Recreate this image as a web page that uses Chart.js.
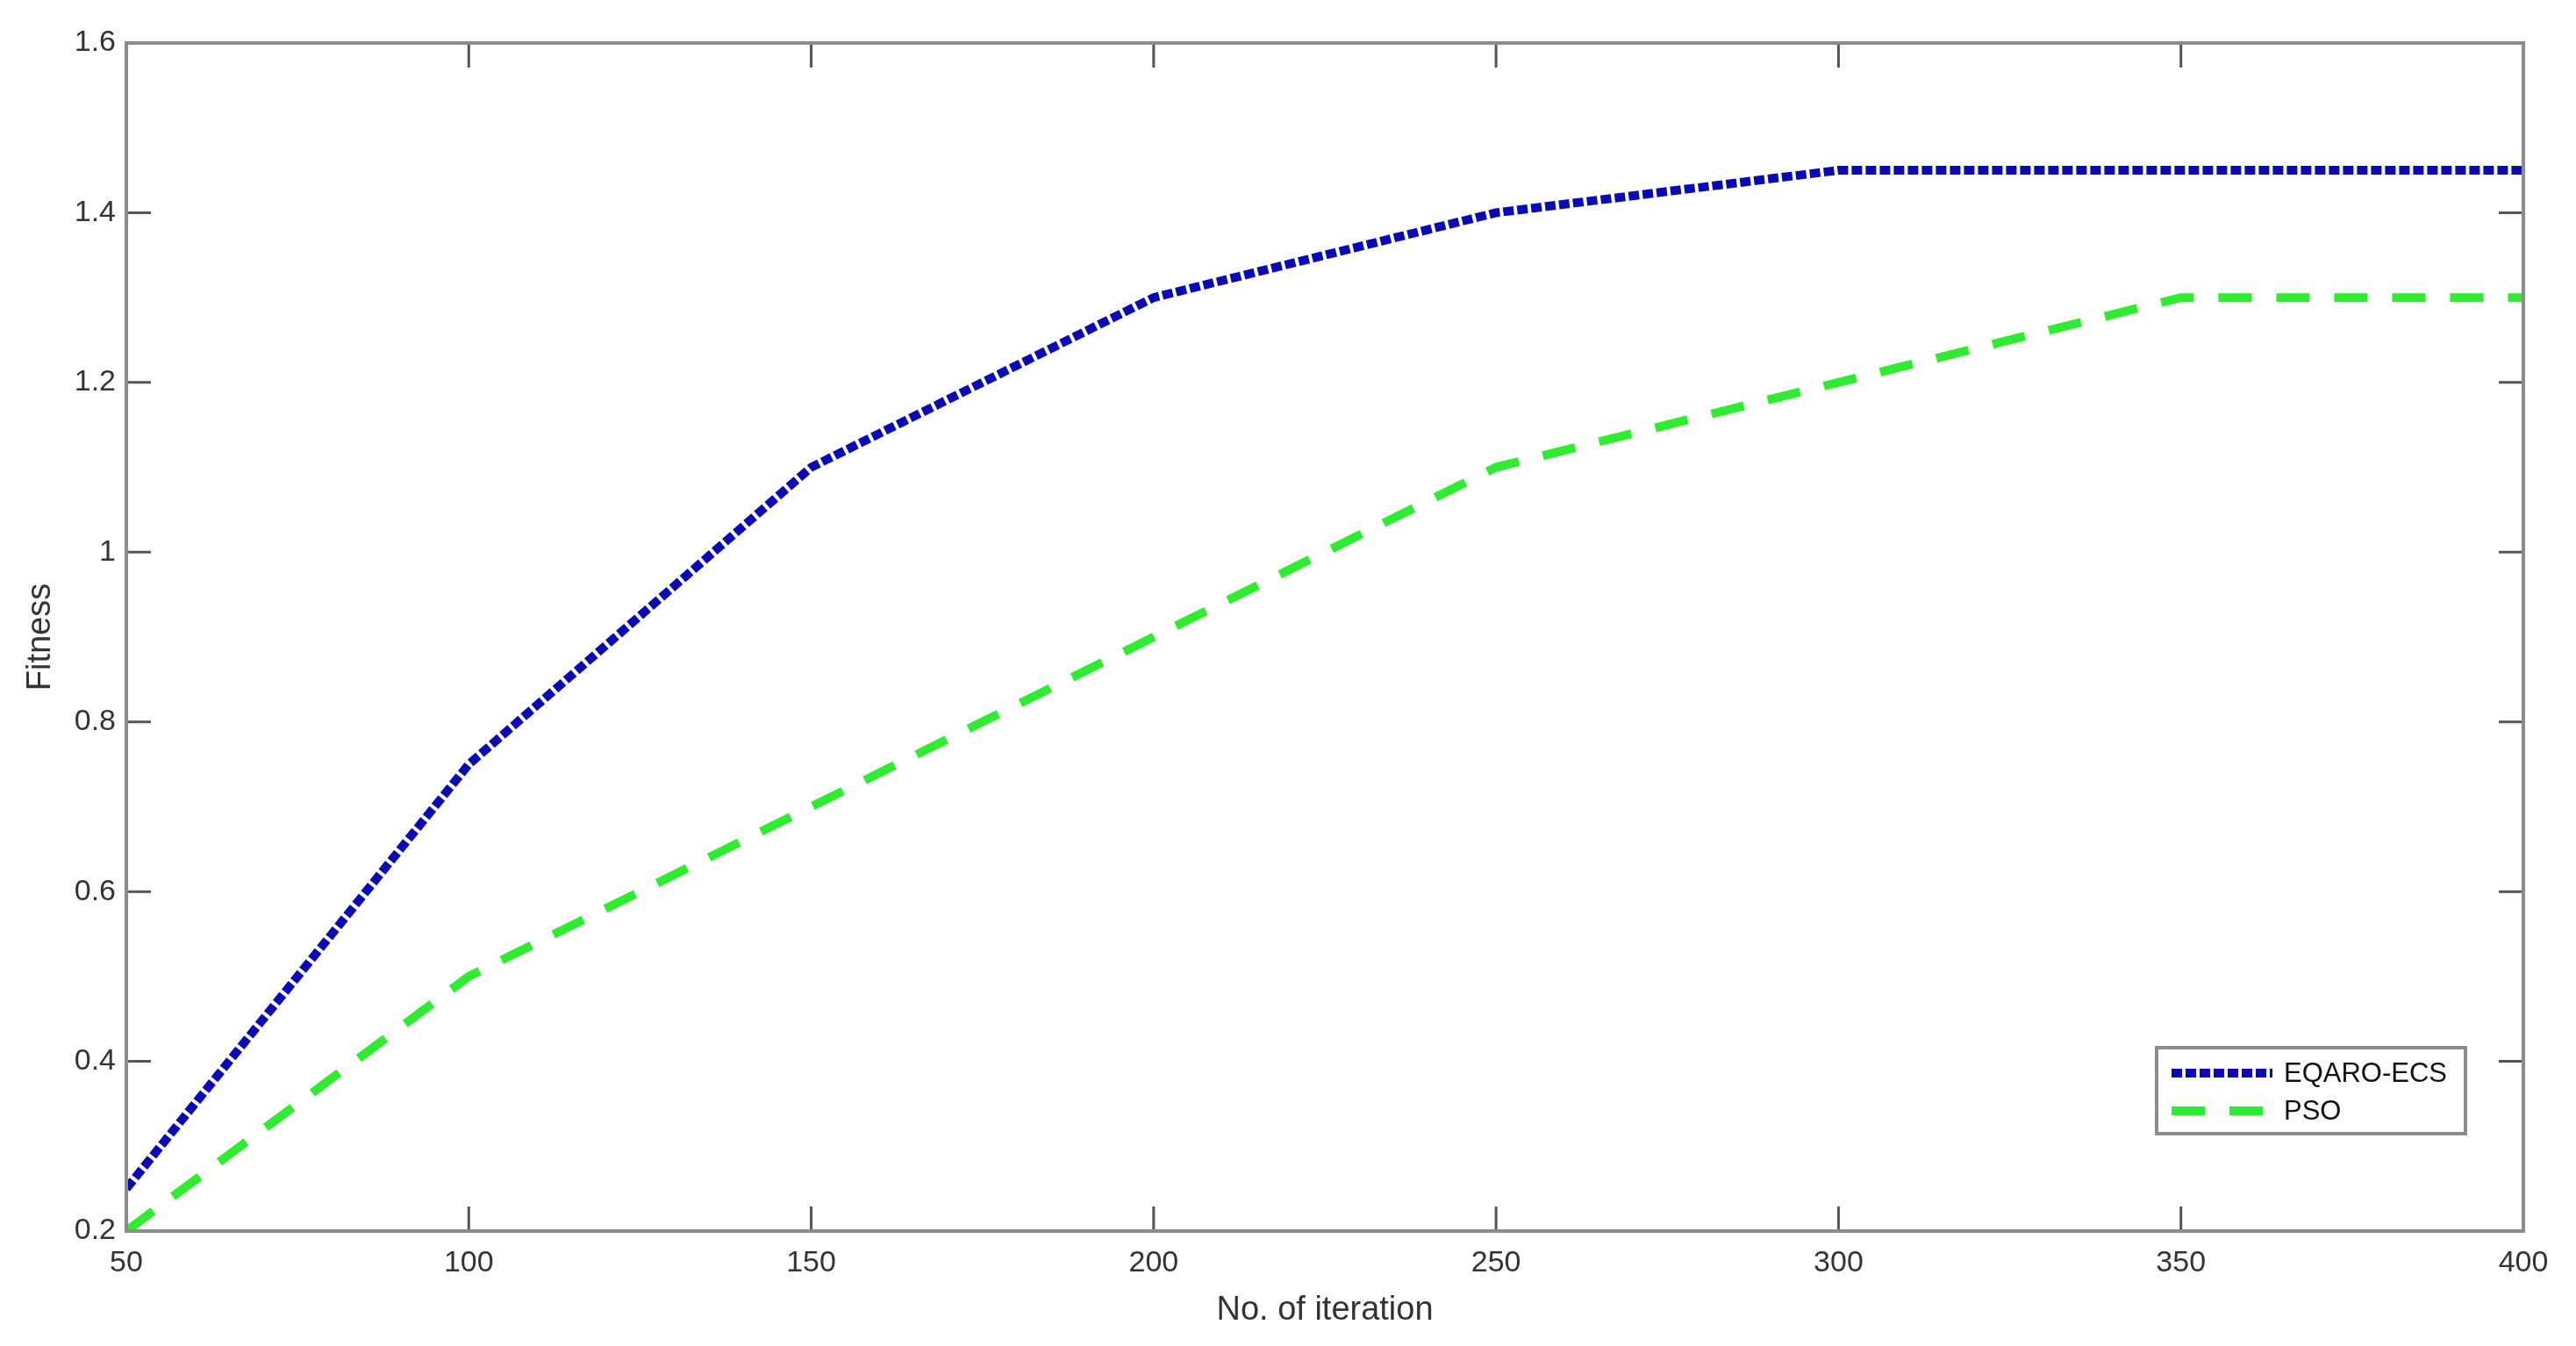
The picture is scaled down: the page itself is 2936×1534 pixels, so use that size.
<!DOCTYPE html>
<html>
<head>
<meta charset="utf-8">
<script src="https://cdn.jsdelivr.net/npm/chart.js@4"></script>
<style>
  html, body { margin: 0; padding: 0; background: #fff; }
  #wrap { width: 2936px; height: 1534px; }
</style>
</head>
<body>
<div id="wrap"><canvas id="fitnessChart" width="2936" height="1534"></canvas></div>
<script>
// Iterations on the x axis
const iterations = [50, 100, 150, 200, 250, 300, 350, 400];
// Fitness values
const eqaroEcs = [0.25, 0.75, 1.1, 1.3, 1.4, 1.45, 1.45, 1.45];
const pso = [0.2, 0.5, 0.7, 0.9, 1.1, 1.2, 1.3, 1.3];
const seriesNames = ['EQARO-ECS', 'PSO'];
const xTicks = [50, 100, 150, 200, 250, 300, 350, 400];
const yTicks = [0.2, 0.4, 0.6, 0.8, 1, 1.2, 1.4, 1.6];

const FONT = "'Liberation Sans', Arial, sans-serif";

// matlab style frame with inward ticks on all four sides
const framePlugin = {
  id: 'frame',
  afterDatasetsDraw(chart) {
    const { ctx, chartArea: a, scales } = chart;
    const len = 28;
    ctx.save();
    ctx.strokeStyle = '#555';
    ctx.lineWidth = 3;
    xTicks.forEach(function (v) {
      const x = scales.x.getPixelForValue(v);
      ctx.beginPath();
      ctx.moveTo(x, a.bottom); ctx.lineTo(x, a.bottom - len);
      ctx.moveTo(x, a.top); ctx.lineTo(x, a.top + len);
      ctx.stroke();
    });
    yTicks.forEach(function (v) {
      const y = scales.y.getPixelForValue(v);
      ctx.beginPath();
      ctx.moveTo(a.left, y); ctx.lineTo(a.left + len, y);
      ctx.moveTo(a.right, y); ctx.lineTo(a.right - len, y);
      ctx.stroke();
    });
    ctx.strokeStyle = '#8c8c8c';
    ctx.lineWidth = 4;
    ctx.strokeRect(a.left, a.top, a.right - a.left, a.bottom - a.top);

    // legend box in the lower right corner
    const bx = a.right - 418, by = a.bottom - 209, bw = 352, bh = 98;
    ctx.fillStyle = '#fff';
    ctx.fillRect(bx, by, bw, bh);
    ctx.strokeStyle = '#8c8c8c';
    ctx.lineWidth = 4;
    ctx.strokeRect(bx, by, bw, bh);
    chart.data.datasets.forEach(function (ds, i) {
      const y = by + 29 + i * 43;
      ctx.beginPath();
      ctx.setLineDash(ds.borderDash);
      ctx.lineDashOffset = 0;
      ctx.strokeStyle = ds.borderColor;
      ctx.lineWidth = ds.borderWidth;
      ctx.lineCap = 'butt';
      ctx.moveTo(bx + 17, y); ctx.lineTo(bx + 132, y);
      ctx.stroke();
      ctx.setLineDash([]);
      ctx.fillStyle = '#111';
      ctx.font = '31px ' + FONT;
      ctx.textBaseline = 'middle';
      ctx.textAlign = 'left';
      ctx.fillText(ds.label, bx + 145, y + 1);
    });
    ctx.restore();
  }
};

const ctx = document.getElementById('fitnessChart').getContext('2d');

new Chart(ctx, {
  type: 'line',
  data: {
    labels: iterations,
    datasets: [{
      label: seriesNames[0],
      data: iterations.map(function (x, i) { return { x: x, y: eqaroEcs[i] }; }),
      borderColor: '#0a0ab4',
      borderWidth: 10,
      borderDash: [12, 4],
      pointRadius: 0,
      tension: 0,
      fill: false
    }, {
      label: seriesNames[1],
      data: iterations.map(function (x, i) { return { x: x, y: pso[i] }; }),
      borderColor: '#30ec30',
      borderWidth: 10,
      borderDash: [38, 28],
      pointRadius: 0,
      tension: 0,
      fill: false
    }]
  },
  options: {
    responsive: false,
    animation: false,
    layout: { padding: { top: 49, right: 60, left: 0, bottom: 0 } },
    plugins: {
      legend: { display: false },
      tooltip: { enabled: false }
    },
    scales: {
      x: {
        type: 'linear',
        min: 50,
        max: 400,
        afterFit: function (s) { s.height = 131; },
        afterBuildTicks: function (s) { s.ticks = xTicks.map(function (v) { return { value: v }; }); },
        grid: { display: false, drawTicks: false },
        border: { display: false },
        ticks: { color: '#333', font: { family: FONT, size: 34 }, padding: 16, maxRotation: 0 },
        title: { display: true, text: 'No. of iteration', color: '#333', font: { family: FONT, size: 38 }, padding: { top: 0, bottom: 18 } }
      },
      y: {
        min: 0.2,
        max: 1.6,
        afterFit: function (s) { s.width = 144; },
        afterBuildTicks: function (s) { s.ticks = yTicks.map(function (v) { return { value: v }; }); },
        grid: { display: false, drawTicks: false },
        border: { display: false },
        ticks: {
          color: '#333', font: { family: FONT, size: 34 }, padding: 12,
          callback: function (v) { return String(Number(v.toFixed(1))); }
        },
        title: { display: true, text: 'Fitness', color: '#333', font: { family: FONT, size: 38 }, padding: { top: 24, bottom: 0 } }
      }
    }
  },
  plugins: [framePlugin]
});
</script>
</body>
</html>
